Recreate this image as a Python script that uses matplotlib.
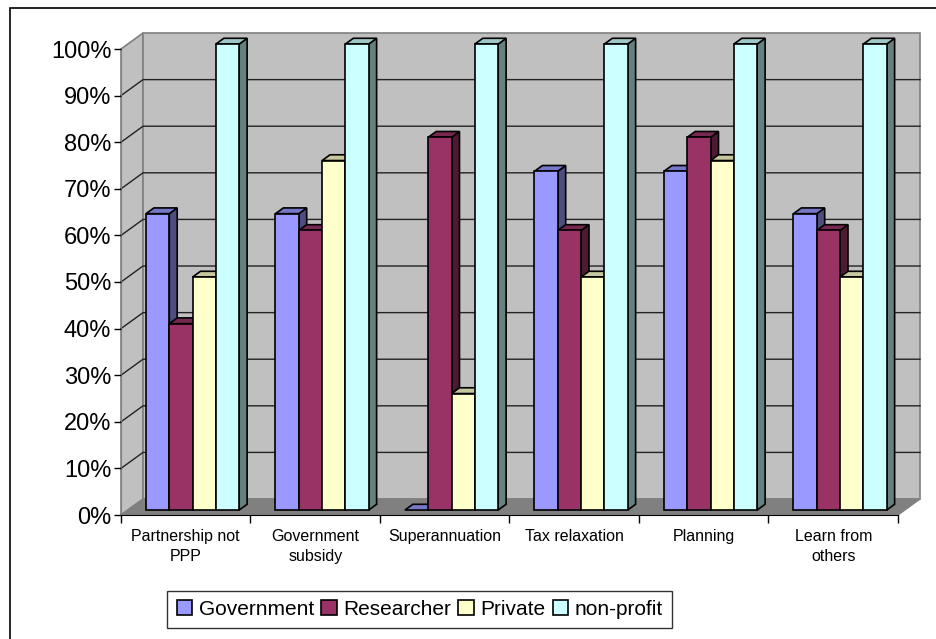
import matplotlib
matplotlib.use("Agg")
import matplotlib.pyplot as plt
from matplotlib.patches import Polygon, Patch, Rectangle
from matplotlib.colors import to_rgb

plt.rcParams["font.family"] = ["Liberation Sans", "DejaVu Sans"]

# Survey shares per category and respondent group (percent).
categories = ["Partnership not\nPPP", "Government\nsubsidy", "Superannuation",
              "Tax relaxation", "Planning", "Learn from\nothers"]
series = ["Government", "Researcher", "Private", "non-profit"]
government = [63.6, 63.6, 0, 72.7, 72.7, 63.6]
researcher = [40, 60, 80, 60, 80, 60]
private = [50, 75, 25, 50, 75, 50]
non_profit = [100, 100, 100, 100, 100, 100]
colors = ["#9999FF", "#993366", "#FFFFCC", "#CCFFFF"]
y_ticks = list(range(0, 101, 10))

values = [government, researcher, private, non_profit]
n_cat = len(categories)

fig = plt.figure(figsize=(9.37, 6.39), dpi=100)
ax = fig.add_axes([121 / 937, 1 - 515 / 639, 777 / 937, 466 / 639])
ax.set_xlim(0, n_cat)
ax.set_ylim(0, 100)

# depth of the 3D box in data units (x, y)
dX, dY = 0.17, 3.43
wall = "#C0C0C0"
floor = "#808080"

def shade(c, k):
    r, g, b = to_rgb(c)
    return (r * k, g * k, b * k)

def poly(pts, fc, ec="black", lw=1.2, z=1):
    ax.add_patch(Polygon(pts, closed=True, facecolor=fc, edgecolor=ec,
                         linewidth=lw, zorder=z, clip_on=False))

# walls and floor
poly([(0, 0), (dX, dY), (dX, 100 + dY), (0, 100)], wall, "#808080", 1.2, 0.5)
poly([(dX, dY), (n_cat + dX, dY), (n_cat + dX, 100 + dY), (dX, 100 + dY)],
     wall, "#808080", 1.2, 0.5)
poly([(0, 0), (n_cat, 0), (n_cat + dX, dY), (dX, dY)], floor, "#808080", 1.0, 0.6)

# gridlines on back and side walls
for v in y_ticks[1:-1]:
    ax.plot([0, dX, n_cat + dX], [v, v + dY, v + dY], color="#222222",
            lw=1.0, zorder=0.7, clip_on=False)

# bars: front face, right side face and top face
bw = 0.18
margin = (1 - bw * len(series)) / 2
f0, f1 = 0.31, 0.67
for i in range(n_cat):
    for j, (vals, c) in enumerate(zip(values, colors)):
        h = vals[i]
        x0 = i + margin + j * bw + f0 * dX
        x1 = x0 + bw
        y0 = f0 * dY
        ddx, ddy = (f1 - f0) * dX, (f1 - f0) * dY
        z = 2 + i * 0.1 + j * 0.01
        poly([(x1, y0), (x1 + ddx, y0 + ddy), (x1 + ddx, y0 + h + ddy), (x1, y0 + h)],
             shade(c, 0.5), z=z)
        poly([(x0, y0 + h), (x0 + ddx, y0 + h + ddy), (x1 + ddx, y0 + h + ddy), (x1, y0 + h)],
             shade(c, 0.78), z=z + 0.001)
        if h > 0:
            poly([(x0, y0), (x1, y0), (x1, y0 + h), (x0, y0 + h)], c, z=z + 0.002)

# axes, ticks and labels
for s in ["top", "right"]:
    ax.spines[s].set_visible(False)
ax.spines["left"].set_color("#808080")
ax.spines["bottom"].set_color("black")
ax.spines["left"].set_zorder(0.9)
ax.spines["bottom"].set_zorder(0.9)
ax.set_facecolor("none")

ax.set_yticks(y_ticks)
ax.set_yticklabels([f"{v}%" for v in y_ticks], fontsize=17)
ax.tick_params(axis="y", length=5, width=1, color="black", pad=2)

ax.set_xticks(range(n_cat + 1))
ax.set_xticklabels([])
ax.tick_params(axis="x", which="major", length=6, width=1, color="black")
ax.set_xticks([i + 0.5 for i in range(n_cat)], minor=True)
ax.set_xticklabels(categories, minor=True, fontsize=11.5, linespacing=1.45)
ax.tick_params(axis="x", which="minor", length=0, pad=10)

handles = [Patch(facecolor=c, edgecolor="black", linewidth=1.2, label=s)
           for s, c in zip(series, colors)]
leg = fig.legend(handles=handles, loc="center", bbox_to_anchor=(0.448, 0.046),
                 ncol=4, fontsize=15, frameon=True, fancybox=False,
                 handlelength=0.75, handleheight=0.75, handletextpad=0.3,
                 columnspacing=0.35, borderpad=0.45, borderaxespad=0)
leg.get_frame().set_edgecolor("black")
leg.get_frame().set_linewidth(1.0)

# outer chart border
fig.patches.append(Rectangle((10 / 937, -0.05), 1.1, 0.05 + 1 - 8 / 639,
                             transform=fig.transFigure, fill=False,
                             edgecolor="black", linewidth=1.2))

fig.savefig("out.png", dpi=100)
